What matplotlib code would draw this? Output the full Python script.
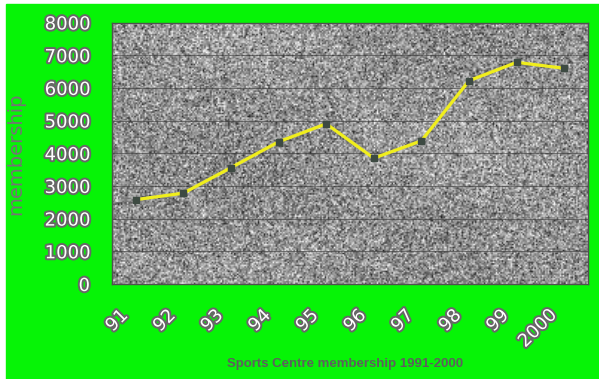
import numpy as np
import matplotlib
matplotlib.use("Agg")
import matplotlib.pyplot as plt
import matplotlib.patheffects as pe
from matplotlib.patches import Rectangle
from matplotlib.transforms import ScaledTranslation

# Sports centre membership per year
years = ["91", "92", "93", "94", "95", "96", "97", "98", "99", "2000"]
members = [2580, 2780, 3560, 4350, 4900, 3850, 4380, 6220, 6780, 6600]
yticks = [0, 1000, 2000, 3000, 4000, 5000, 6000, 7000, 8000]

GREEN = "#06f406"
TEXT_GREY = "#676767"

fig = plt.figure(figsize=(5.99, 3.79), dpi=100)
fig.patch.set_facecolor("white")
fig.add_artist(Rectangle((6 / 599, 0), 1 - 6 / 599, 1 - 4 / 379,
                         transform=fig.transFigure, color=GREEN, zorder=-10))

ax = fig.add_axes([112 / 599, 1 - 284 / 379, 476 / 599, 261.5 / 379])

# grainy grey plot-area texture
rng = np.random.default_rng(11)
ny, nx = 176, 320
grain = rng.normal(0.58, 0.17, (ny, nx))
yy, xx = np.mgrid[0:ny, 0:nx]
shade = (0.04 * np.sin(xx / 50.0) * np.cos(yy / 31.0)
         - 0.05 * np.exp(-((xx - 220) ** 2 / 2500 + (yy - 130) ** 2 / 500)))
grain = np.clip(grain + shade, 0.15, 0.97)
ax.imshow(grain, cmap="gray", vmin=0, vmax=1, extent=(0, 1, 0, 1),
          transform=ax.transAxes, aspect="auto", interpolation="bilinear", zorder=0)

x = np.arange(len(years))
ax.set_xlim(-0.5, len(years) - 0.5)
ax.set_ylim(0, 8000)

for v in yticks[1:-1]:
    ax.axhline(v, color="#3a3a3a", lw=0.8, alpha=0.6, zorder=1)

ax.plot(x, members, color="#f0ee1c", lw=2.3, zorder=3, solid_capstyle="butt")
ax.plot(x, members, ls="none", marker="s", ms=3.8, color="#3d4a42", zorder=4)

outline = [pe.Stroke(linewidth=2.8, foreground=TEXT_GREY), pe.Normal()]

ax.set_yticks(yticks)
ax.set_yticklabels([str(v) for v in yticks])
ax.set_xticks(x)
ax.set_xticklabels(years, rotation=45, ha="right", va="top", rotation_mode="anchor")
ax.tick_params(axis="both", length=0)
ax.tick_params(axis="y", pad=16)
ax.tick_params(axis="x", pad=16)

for lab in ax.get_yticklabels() + ax.get_xticklabels():
    lab.set_fontfamily("DejaVu Sans")
    lab.set_fontsize(13)
    lab.set_color("white")
    lab.set_path_effects(outline)

shift = ScaledTranslation(-17 / 100, 0, fig.dpi_scale_trans)
for lab in ax.get_xticklabels():
    lab.set_transform(lab.get_transform() + shift)

for s in ax.spines.values():
    s.set_color("#505050")
    s.set_linewidth(1.0)

fig.text(16 / 599, 1 - 154 / 379, "membership", rotation=90, ha="center", va="center",
         fontsize=14, color="#747474", family="DejaVu Sans")
fig.text(345 / 599, 1 - 364 / 379, "Sports Centre membership 1991-2000",
         ha="center", va="center", fontsize=9.5, fontweight="bold",
         color="#5e5e5e", family="Liberation Sans")

fig.savefig("out.png", dpi=100)
